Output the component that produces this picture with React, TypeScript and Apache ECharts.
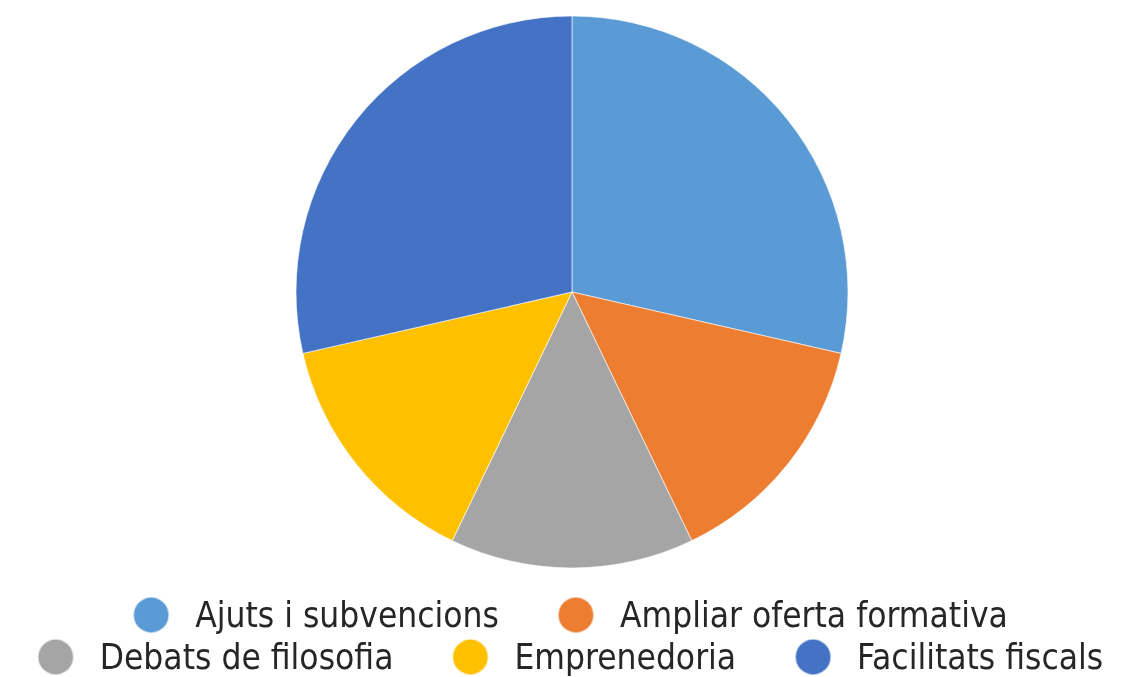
import React, { useEffect, useRef } from "react";
import * as echarts from "echarts";

const categories = [
  "Ajuts i subvencions",
  "Ampliar oferta formativa",
  "Debats de filosofia",
  "Emprenedoria",
  "Facilitats fiscals",
];
const values = [2, 1, 1, 1, 2];
const colors = ["#5B9BD5", "#ED7D31", "#A5A5A5", "#FFC000", "#4472C4"];

export default function App() {
  const ref = useRef<HTMLDivElement>(null);
  useEffect(() => {
    if (!ref.current) return;
    const chart = echarts.init(ref.current, undefined, { renderer: "svg" });
    const textStyle = {
      fontFamily: "'Liberation Sans Narrow', 'DejaVu Sans Condensed', 'Noto Sans', sans-serif",
      fontSize: 35,
      lineHeight: 38,
      color: "#262626",
      padding: [0, 0, 0, 21],
    };
    const common = {
      orient: "horizontal" as const,
      left: "center",
      icon: "circle",
      itemWidth: 36,
      itemHeight: 36,
      itemGap: 58,
      textStyle,
    };
    chart.setOption({
      animation: false,
      color: colors,
      legend: [
        { ...common, top: 591, data: categories.slice(0, 2) },
        { ...common, top: 633, data: categories.slice(2) },
      ],
      series: [
        {
          type: "pie",
          center: [572, 292],
          radius: 276,
          startAngle: 90,
          clockwise: true,
          label: { show: false },
          labelLine: { show: false },
          itemStyle: { borderColor: "rgba(255,255,255,0.6)", borderWidth: 1 },
          emphasis: { disabled: true },
          data: categories.map((name, i) => ({ name, value: values[i] })),
        },
      ],
    });
    return () => chart.dispose();
  }, []);
  return (
    <div
      ref={ref}
      style={{ position: "fixed", left: 0, top: 0, width: 1140, height: 677 }}
    />
  );
}
